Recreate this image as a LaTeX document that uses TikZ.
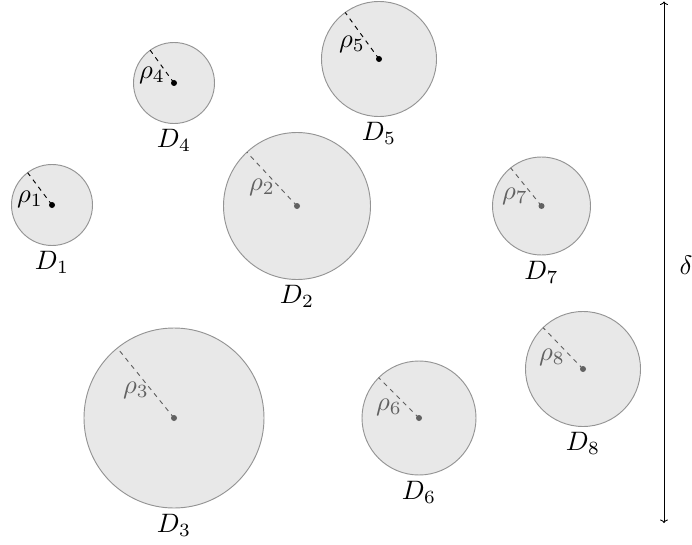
\documentclass[tikz,border=0pt]{standalone}
\usetikzlibrary{arrows.meta,calc}
\begin{document}
\begin{tikzpicture}[x=0.375pt,y=-0.375pt,
  disk/.style={draw=black!42,fill=black!9,line width=0.35pt},
  radline/.style={dashed,dash pattern=on 1.7pt off 1.7pt,line width=0.35pt},
  dimlabel/.style={below,inner sep=2pt},
  rholabel/.style={inner sep=0pt},
  faded/.style={black!62}]
\useasboundingbox (0,0) rectangle (692,545);
% centres
\coordinate (c1) at (52,205);
\coordinate (c2) at (297,206);
\coordinate (c3) at (174,418);
\coordinate (c4) at (174,83);
\coordinate (c5) at (379,59);
\coordinate (c6) at (419,418);
\coordinate (c7) at (541.5,206);
\coordinate (c8) at (583,369);
% disks
\draw[disk] (c1) circle[radius=40.5];
\draw[disk] (c2) circle[radius=73.5];
\draw[disk] (c3) circle[radius=90];
\draw[disk] (c4) circle[radius=40.5];
\draw[disk] (c5) circle[radius=57.5];
\draw[disk] (c6) circle[radius=57];
\draw[disk] (c7) circle[radius=49];
\draw[disk] (c8) circle[radius=57.5];
% radii
\coordinate (e1) at ($(c1)+(233:40.5)$);
\coordinate (e4) at ($(c4)+(234:40.5)$);
\coordinate (e5) at ($(c5)+(234:57.5)$);
\coordinate (e2) at ($(c2)+(227:73.5)$);
\coordinate (e3) at ($(c3)+(231:90)$);
\coordinate (e6) at ($(c6)+(225:57)$);
\coordinate (e7) at ($(c7)+(231:49)$);
\coordinate (e8) at ($(c8)+(226:57.5)$);
\draw[radline] (c1) -- (e1);
\draw[radline] (c4) -- (e4);
\draw[radline] (c5) -- (e5);
\draw[radline,faded] (c2) -- (e2);
\draw[radline,faded] (c3) -- (e3);
\draw[radline,faded] (c6) -- (e6);
\draw[radline,faded] (c7) -- (e7);
\draw[radline,faded] (c8) -- (e8);
\fill (c1) circle[radius=3];
\fill (c4) circle[radius=3];
\fill (c5) circle[radius=3];
\fill[faded] (c2) circle[radius=3];
\fill[faded] (c3) circle[radius=3];
\fill[faded] (c6) circle[radius=3];
\fill[faded] (c7) circle[radius=3];
\fill[faded] (c8) circle[radius=3];
% rho labels
\node[rholabel] (r1) at (30,199) {$\rho_1$};
\node[rholabel] (r4) at (152,75) {$\rho_4$};
\node[rholabel] (r5) at (352,44) {$\rho_5$};
\node[rholabel,faded] (r2) at (262,187) {$\rho_2$};
\node[rholabel,faded] (r3) at (136,390) {$\rho_3$};
\node[rholabel,faded] (r6) at (389,407) {$\rho_6$};
\node[rholabel,faded] (r7) at (515,196) {$\rho_7$};
\node[rholabel,faded] (r8) at (552,357) {$\rho_8$};
% disk labels
\node[dimlabel] (l1) at ($(c1)+(0,40.5)$) {$D_1$};
\node[dimlabel] (l2) at ($(c2)+(0,73.5)$) {$D_2$};
\node[dimlabel] (l3) at ($(c3)+(0,90)$) {$D_3$};
\node[dimlabel] (l4) at ($(c4)+(0,40.5)$) {$D_4$};
\node[dimlabel] (l5) at ($(c5)+(0,57.5)$) {$D_5$};
\node[dimlabel] (l6) at ($(c6)+(0,57)$) {$D_6$};
\node[dimlabel] (l7) at ($(c7)+(0,49)$) {$D_7$};
\node[dimlabel] (l8) at ($(c8)+(0,57.5)$) {$D_8$};
% delta
\coordinate (atop) at (664,1.5);
\coordinate (abot) at (664,523);
\draw[{To[length=1.3pt,width=3pt]}-{To[length=1.3pt,width=3pt]},line width=0.33pt] (atop) -- (abot);
\node (delta) at (686,265) {$\delta$};
\end{tikzpicture}
\end{document}
